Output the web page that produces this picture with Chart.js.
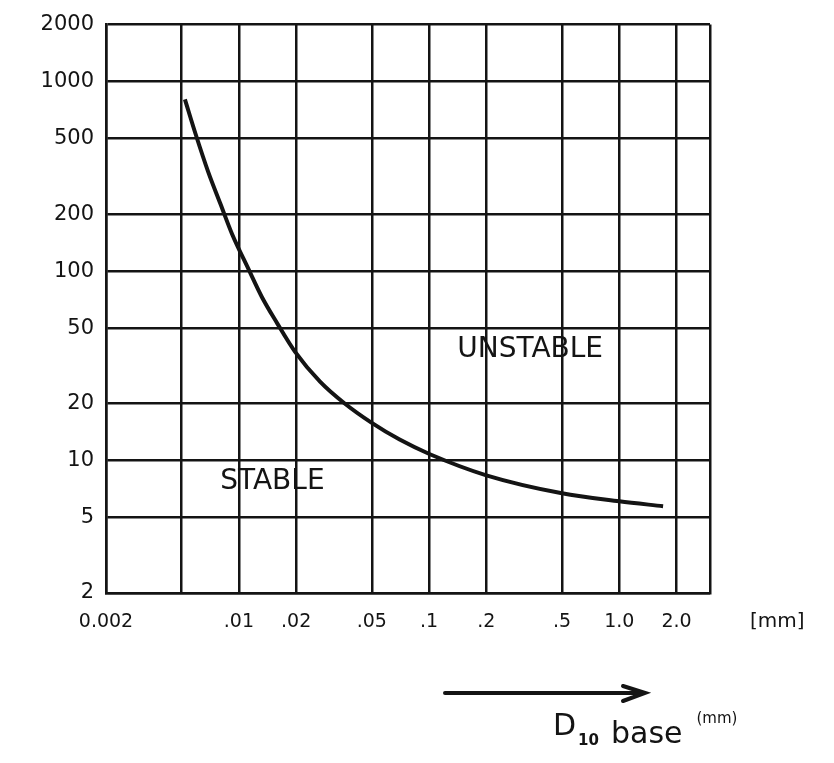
<!DOCTYPE html>
<html>
<head>
<meta charset="utf-8">
<script src="https://cdn.jsdelivr.net/npm/chart.js@4/dist/chart.umd.min.js"></script>
<style>
  html, body { margin: 0; padding: 0; background: #fff; }
  #wrap { width: 834px; height: 763px; }
</style>
</head>
<body>
<div id="wrap"><canvas id="myChart" width="834" height="763"></canvas></div>
<script>
// axis ticks (grid lines) and their labels
const xTicks = [0.002, 0.005, 0.01, 0.02, 0.05, 0.1, 0.2, 0.5, 1, 2, 3];
const xTickLabels = ['0.002', '', '.01', '.02', '.05', '.1', '.2', '.5', '1.0', '2.0', ''];
const yTicks = [2, 5, 10, 20, 50, 100, 200, 500, 1000, 2000];
const yTickLabels = ['2', '5', '10', '20', '50', '100', '200', '500', '1000', '2000'];

// curve: D10 base [mm] vs ratio
const d10 = [0.0052, 0.0059, 0.0069, 0.0080, 0.0092, 0.0112, 0.0132, 0.0159, 0.0197, 0.0267, 0.036, 0.0495, 0.070, 0.101, 0.20, 0.50, 1.0, 1.7];
const ratio = [806, 534, 333, 226, 157, 103, 73, 53, 37.6, 26.1, 20, 15.9, 12.9, 10.8, 8.36, 6.72, 6.1, 5.74];

// region labels
const regions = [
    { text: 'STABLE', x: 0.015, y: 7.7 },
    { text: 'UNSTABLE', x: 0.34, y: 38.5 }
];

const ink = '#141414';
const handFont = 'DejaVu Sans';

const extras = {
    id: 'extras',
    afterDraw(chart) {
        const ctx = chart.ctx;
        const xs = chart.scales.x, ys = chart.scales.y;
        const area = chart.chartArea;
        ctx.save();
        ctx.fillStyle = ink;
        ctx.strokeStyle = ink;
        // region names
        ctx.font = '28px "' + handFont + '"';
        ctx.textAlign = 'center';
        ctx.textBaseline = 'middle';
        regions.forEach(r => {
            ctx.fillText(r.text, xs.getPixelForValue(r.x), ys.getPixelForValue(r.y));
        });
        // unit after last x label
        ctx.font = '20px "' + handFont + '"';
        ctx.textAlign = 'left';
        ctx.fillText('[mm]', area.right + 40, area.bottom + 29);
        // arrow
        const ay = area.bottom + 100;
        const ax0 = area.left + 339, ax1 = area.left + 539;
        ctx.lineWidth = 4;
        ctx.lineCap = 'round';
        ctx.beginPath();
        ctx.moveTo(ax0, ay);
        ctx.lineTo(ax1, ay);
        ctx.moveTo(ax1 - 22, ay - 7);
        ctx.lineTo(ax1, ay);
        ctx.lineTo(ax1 - 22, ay + 8);
        ctx.stroke();
        // axis title D10 base (mm)
        ctx.textBaseline = 'alphabetic';
        let tx = area.left + 447;
        const base = area.bottom + 150;
        ctx.font = '30px "' + handFont + '"';
        ctx.fillText('D', tx, base - 8);
        tx += ctx.measureText('D').width + 2;
        ctx.font = 'bold 15px "' + handFont + '"';
        ctx.fillText('10', tx, base + 2);
        tx += ctx.measureText('10').width + 12;
        ctx.font = '30px "' + handFont + '"';
        ctx.fillText('base', tx, base);
        tx += ctx.measureText('base').width + 14;
        ctx.font = '15px "' + handFont + '"';
        ctx.fillText('(mm)', tx, base - 20);
        ctx.restore();
    }
};

const config = {
    type: 'line',
    data: {
        datasets: [{
            data: d10.map((x, i) => ({ x: x, y: ratio[i] })),
            borderColor: ink,
            borderWidth: 4,
            pointRadius: 0,
            cubicInterpolationMode: 'monotone',
            fill: false
        }]
    },
    options: {
        responsive: false,
        animation: false,
        layout: { padding: { top: 23, right: 124, left: 0, bottom: 0 } },
        plugins: { legend: { display: false }, tooltip: { enabled: false } },
        scales: {
            x: {
                type: 'logarithmic',
                min: 0.002,
                max: 3,
                afterBuildTicks: scale => { scale.ticks = xTicks.map(v => ({ value: v })); },
                afterFit: scale => { scale.height = 170; },
                grid: { color: ink, lineWidth: 2.5, drawTicks: false },
                border: { color: ink, width: 2.5 },
                ticks: {
                    autoSkip: false,
                    maxRotation: 0,
                    padding: 18,
                    color: ink,
                    font: { family: handFont, size: 19 },
                    callback: (v, i) => xTickLabels[i]
                }
            },
            y: {
                type: 'logarithmic',
                min: 2,
                max: 2000,
                afterBuildTicks: scale => { scale.ticks = yTicks.map(v => ({ value: v })); },
                afterFit: scale => { scale.width = 106; },
                grid: { color: ink, lineWidth: 2.5, drawTicks: false },
                border: { color: ink, width: 2.5 },
                ticks: {
                    padding: 12,
                    color: ink,
                    font: { family: handFont, size: 21 },
                    callback: (v, i) => yTickLabels[i]
                }
            }
        }
    },
    plugins: [extras]
};

const myChart = new Chart(document.getElementById('myChart'), config);
</script>
</body>
</html>
